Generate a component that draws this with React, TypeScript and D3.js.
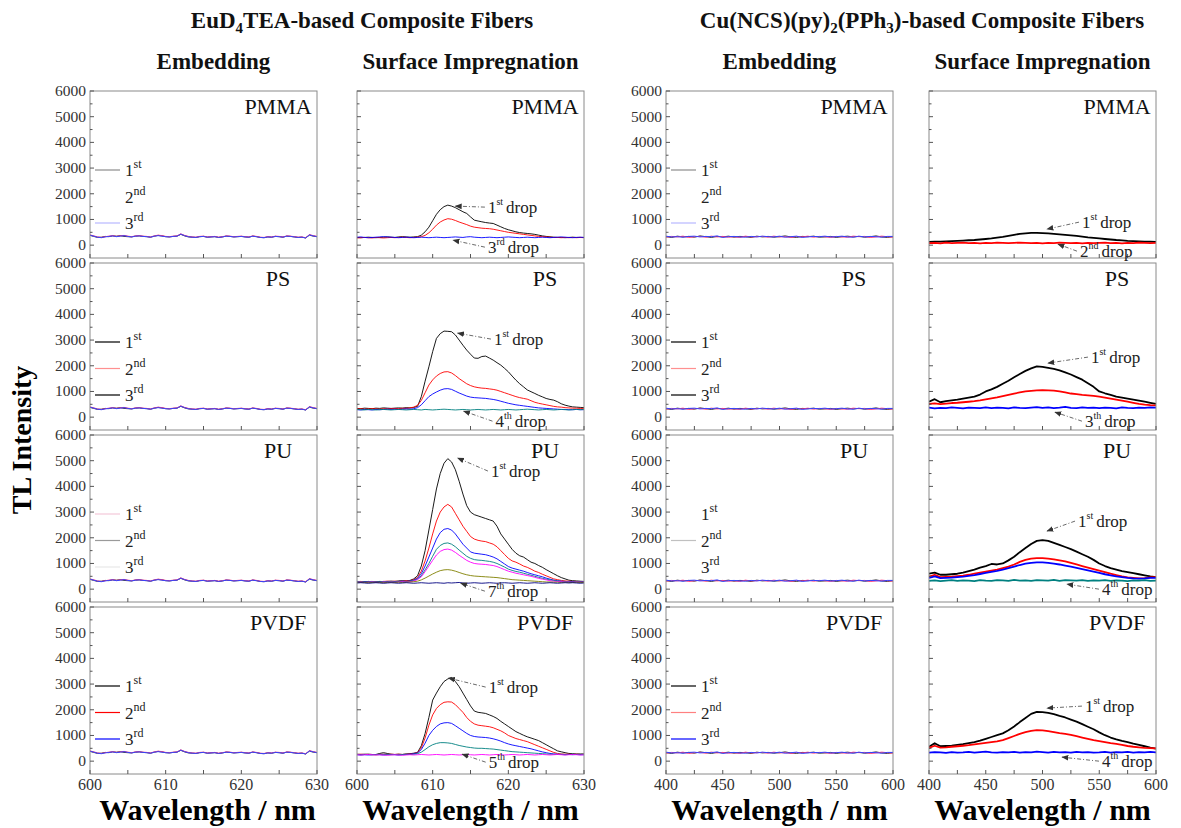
import React from "react";
import * as d3 from "d3";

// ---------------- categories / ticks ----------------
const materials = ["PMMA", "PS", "PU", "PVDF"];
const euWavelengths = d3.range(61).map((i) => 600 + i * 0.5);
const cuWavelengths = d3.range(41).map((i) => 400 + i * 5);
const euXTicks = [600, 610, 620, 630];
const euXMinor = [605, 615, 625];
const cuXTicks = [400, 450, 500, 550, 600];
const cuXMinor = [425, 475, 525, 575];
const yTicks = [0, 1000, 2000, 3000, 4000, 5000, 6000];
const yMinor = [500, 1500, 2500, 3500, 4500, 5500];
const dropColors = ["#000000", "#ff0000", "#0000ff", "#008080", "#ff00ff", "#808000", "#000080"];
const embedColors = ["#333333", "#ff3377", "#3344ff"];
const legendLabels = [["1", "st"], ["2", "nd"], ["3", "rd"]];
const euLegendColors = [
  ["#8c8c8c", "#ffffff", "#b8b8ff"],
  ["#000000", "#ff9090", "#000000"],
  ["#f4c8d8", "#9a9a9a", "#e8e8e8"],
  ["#000000", "#ff0000", "#0000ff"],
];
const cuLegendColors = [
  ["#8c8c8c", "#ffffff", "#b8b8ff"],
  ["#000000", "#ff9090", "#000000"],
  ["#ffffff", "#c0c0c0", "#ffffff"],
  ["#000000", "#ff8080", "#0000ff"],
];

// ---------------- EuD4TEA embedding (shared noise baselines) ----------------
const euEmbed1 = [
  380, 340, 300, 310, 340, 330, 360, 350, 370, 340,
  330, 320, 350, 360, 340, 330, 310, 350, 380, 360,
  330, 320, 340, 350, 420, 360, 320, 310, 300, 330,
  340, 310, 320, 330, 300, 320, 350, 340, 320, 330,
  340, 320, 310, 350, 330, 300, 290, 320, 310, 340,
  330, 310, 350, 340, 320, 300, 310, 280, 390, 350,
  330,
];
const euEmbed2 = [
  400, 360, 320, 300, 330, 350, 370, 340, 360, 380,
  350, 330, 360, 370, 350, 340, 320, 360, 390, 370,
  340, 330, 350, 360, 440, 380, 340, 320, 310, 340,
  350, 320, 330, 340, 310, 330, 360, 350, 330, 340,
  350, 330, 320, 360, 340, 310, 300, 330, 320, 350,
  340, 320, 360, 350, 330, 310, 320, 290, 410, 370,
  340,
];
const euEmbed3 = [
  390, 350, 310, 290, 320, 340, 360, 330, 350, 370,
  340, 320, 350, 360, 340, 330, 310, 350, 370, 350,
  330, 320, 340, 350, 430, 370, 330, 310, 300, 330,
  340, 310, 320, 330, 300, 320, 350, 340, 320, 330,
  340, 320, 310, 350, 330, 300, 290, 320, 310, 340,
  330, 310, 350, 340, 320, 300, 310, 280, 400, 360,
  330,
];

// ---------------- EuD4TEA surface impregnation ----------------
const euPmma1 = [
  300, 290, 300, 310, 300, 290, 300, 310, 320, 310,
  300, 320, 330, 320, 310, 320, 330, 390, 520, 700,
  950, 1200, 1380, 1500, 1558, 1520, 1460, 1380, 1300, 1234,
  1100, 974, 940, 909, 880, 860, 844, 780, 714, 650,
  600, 560, 519, 490, 470, 455, 440, 420, 390, 360,
  340, 325, 310, 300, 300, 290, 300, 310, 300, 300,
  300,
];
const euPmma2 = [
  280, 290, 300, 290, 280, 300, 290, 280, 290, 300,
  290, 300, 310, 300, 290, 300, 310, 330, 380, 480,
  620, 780, 900, 980, 1030, 1010, 960, 900, 850, 800,
  740, 700, 680, 660, 650, 640, 620, 590, 560, 530,
  500, 480, 460, 440, 420, 400, 380, 360, 340, 330,
  320, 310, 300, 300, 290, 300, 290, 300, 290, 300,
  290,
];
const euPmma3 = [
  310, 320, 300, 290, 300, 310, 320, 330, 320, 310,
  300, 290, 300, 310, 300, 290, 300, 310, 300, 290,
  300, 310, 300, 290, 300, 310, 320, 310, 300, 320,
  330, 310, 300, 290, 300, 310, 300, 290, 300, 310,
  320, 310, 300, 290, 300, 310, 300, 290, 300, 310,
  300, 290, 300, 310, 320, 310, 300, 290, 300, 310,
  300,
];
const euPs1 = [
  340, 330, 350, 340, 330, 350, 340, 360, 350, 340,
  350, 360, 350, 370, 360, 380, 420, 800, 1400, 1960,
  2550, 3065, 3250, 3350, 3340, 3325, 3200, 3000, 2800, 2610,
  2450, 2300, 2290, 2360, 2377, 2300, 2220, 2120, 2026, 1900,
  1766, 1600, 1441, 1300, 1182, 1060, 990, 922, 850, 790,
  727, 690, 662, 600, 520, 467, 430, 400, 390, 380,
  370,
];
const euPs2 = [
  320, 330, 310, 320, 330, 320, 310, 330, 320, 330,
  340, 330, 350, 340, 360, 390, 460, 650, 950, 1250,
  1450, 1600, 1700, 1760, 1770, 1720, 1620, 1500, 1400, 1300,
  1230, 1180, 1150, 1130, 1120, 1100, 1080, 1050, 1000, 950,
  900, 850, 800, 760, 730, 700, 640, 580, 540, 510,
  480, 450, 420, 400, 390, 370, 360, 350, 350, 340,
  340,
];
const euPs3 = [
  290, 280, 300, 290, 280, 300, 290, 300, 310, 300,
  310, 300, 310, 320, 310, 330, 370, 480, 640, 800,
  900, 980, 1050, 1100, 1110, 1080, 1010, 940, 880, 820,
  780, 760, 750, 740, 730, 710, 690, 660, 620, 580,
  540, 510, 480, 460, 440, 420, 400, 380, 360, 350,
  340, 330, 320, 310, 300, 300, 290, 290, 300, 290,
  290,
];
const euPs4 = [
  300, 290, 280, 300, 290, 280, 290, 300, 290, 280,
  290, 300, 290, 280, 290, 300, 290, 280, 300, 290,
  280, 290, 300, 310, 300, 290, 280, 290, 300, 290,
  280, 290, 300, 290, 280, 290, 300, 290, 280, 290,
  300, 290, 280, 290, 300, 310, 300, 290, 280, 290,
  300, 290, 280, 290, 300, 290, 280, 290, 300, 290,
  300,
];
const euPu1 = [
  300, 290, 280, 300, 290, 285, 300, 295, 300, 310,
  300, 320, 330, 320, 340, 400, 520, 900, 1500, 2300,
  3100, 3900, 4500, 4900, 5080, 4950, 4650, 4200, 3700, 3250,
  3000, 2900, 2850, 2800, 2750, 2700, 2650, 2450, 2150, 1950,
  1750, 1550, 1400, 1300, 1250, 1150, 1050, 1000, 920, 850,
  760, 680, 600, 520, 450, 400, 350, 330, 320, 310,
  300,
];
const euPu2 = [
  290, 300, 280, 290, 300, 280, 290, 300, 310, 300,
  310, 300, 320, 330, 330, 370, 450, 700, 1100, 1600,
  2150, 2650, 3000, 3200, 3300, 3200, 2950, 2700, 2450, 2250,
  2050, 1950, 1900, 1870, 1850, 1800, 1750, 1650, 1500, 1350,
  1200, 1100, 1050, 980, 900, 850, 780, 700, 650, 580,
  520, 460, 400, 370, 340, 320, 310, 300, 300, 290,
  290,
];
const euPu3 = [
  280, 270, 290, 280, 270, 290, 280, 270, 290, 300,
  290, 300, 310, 300, 320, 350, 420, 600, 900, 1250,
  1600, 1950, 2200, 2330, 2360, 2300, 2150, 1950, 1750, 1600,
  1450, 1400, 1380, 1360, 1340, 1300, 1250, 1180, 1080, 980,
  880, 820, 780, 740, 700, 650, 600, 560, 520, 480,
  430, 390, 350, 330, 310, 300, 290, 290, 280, 280,
  280,
];
const euPu4 = [
  300, 290, 280, 290, 300, 280, 290, 300, 290, 300,
  290, 300, 310, 300, 310, 340, 390, 520, 750, 1000,
  1280, 1550, 1700, 1780, 1800, 1750, 1650, 1520, 1400, 1280,
  1200, 1150, 1130, 1120, 1100, 1080, 1050, 1000, 930, 860,
  780, 730, 690, 660, 620, 580, 540, 500, 460, 420,
  390, 360, 340, 320, 300, 300, 290, 280, 290, 280,
  280,
];
const euPu5 = [
  270, 280, 260, 270, 280, 270, 260, 280, 270, 280,
  270, 280, 290, 280, 290, 320, 370, 480, 680, 900,
  1120, 1330, 1470, 1540, 1560, 1520, 1430, 1320, 1220, 1120,
  1050, 1000, 980, 970, 960, 940, 920, 880, 820, 760,
  700, 660, 620, 590, 560, 530, 500, 460, 420, 390,
  360, 330, 310, 300, 290, 280, 280, 270, 280, 270,
  270,
];
const euPu6 = [
  260, 270, 260, 250, 260, 270, 260, 250, 260, 270,
  260, 270, 260, 270, 280, 290, 310, 360, 430, 510,
  590, 660, 720, 750, 760, 740, 700, 650, 600, 560,
  530, 510, 500, 490, 480, 470, 460, 450, 430, 410,
  390, 370, 360, 350, 340, 330, 320, 310, 300, 290,
  280, 280, 270, 270, 260, 270, 260, 260, 270, 260,
  260,
];
const euPu7 = [
  240, 250, 240, 230, 240, 250, 240, 230, 240, 250,
  240, 230, 240, 250, 240, 230, 240, 250, 240, 230,
  240, 250, 240, 230, 250, 240, 250, 260, 240, 230,
  240, 250, 240, 230, 240, 250, 240, 230, 240, 250,
  240, 230, 240, 250, 240, 230, 240, 250, 240, 230,
  240, 250, 240, 230, 240, 250, 240, 250, 240, 230,
  240,
];
const euPvdf1 = [
  270, 260, 270, 260, 250, 260, 300, 330, 300, 270,
  260, 270, 260, 280, 290, 310, 340, 600, 1078, 1700,
  2377, 2650, 2896, 3100, 3200, 3260, 3100, 2900, 2650, 2400,
  2150, 1950, 1900, 1880, 1857, 1800, 1740, 1662, 1550, 1450,
  1350, 1250, 1150, 1080, 1010, 948, 900, 850, 800, 720,
  640, 558, 480, 400, 364, 330, 300, 290, 280, 280,
  280,
];
const euPvdf2 = [
  260, 270, 260, 270, 260, 250, 260, 270, 260, 270,
  260, 270, 260, 270, 280, 300, 330, 520, 900, 1400,
  1800, 2050, 2200, 2290, 2310, 2300, 2200, 2050, 1900, 1700,
  1550, 1450, 1400, 1380, 1360, 1340, 1300, 1240, 1180, 1100,
  1000, 940, 880, 840, 800, 760, 700, 640, 580, 520,
  460, 400, 340, 300, 280, 270, 270, 260, 270, 260,
  260,
];
const euPvdf3 = [
  250, 240, 250, 240, 250, 260, 250, 240, 250, 260,
  250, 240, 250, 260, 270, 290, 320, 450, 700, 1000,
  1200, 1350, 1450, 1490, 1500, 1470, 1380, 1280, 1180, 1080,
  1000, 960, 940, 930, 920, 900, 870, 830, 780, 720,
  670, 630, 600, 570, 540, 510, 480, 440, 400, 360,
  330, 300, 280, 270, 260, 250, 260, 250, 260, 250,
  250,
];
const euPvdf4 = [
  260, 250, 260, 270, 260, 250, 260, 270, 260, 250,
  260, 250, 260, 270, 260, 270, 290, 350, 450, 560,
  640, 690, 720, 720, 710, 690, 650, 610, 580, 550,
  530, 510, 500, 500, 490, 480, 470, 450, 430, 410,
  390, 370, 360, 350, 340, 330, 320, 310, 300, 290,
  280, 270, 270, 260, 270, 260, 260, 270, 260, 260,
  260,
];
const euPvdf5 = [
  250, 240, 250, 260, 250, 240, 250, 240, 230, 240,
  250, 240, 230, 240, 250, 240, 250, 260, 250, 240,
  250, 260, 250, 240, 250, 260, 250, 240, 250, 260,
  250, 240, 250, 260, 250, 240, 250, 260, 250, 240,
  250, 260, 250, 240, 250, 260, 250, 240, 250, 260,
  250, 240, 250, 260, 250, 240, 250, 260, 250, 240,
  250,
];

// ---------------- Cu(NCS)(py)2(PPh3) embedding ----------------
const cuEmbed1 = [
  330, 300, 350, 320, 340, 310, 360, 330, 300, 340,
  320, 350, 310, 340, 330, 300, 350, 320, 340, 310,
  330, 360, 320, 300, 340, 330, 350, 310, 320, 340,
  300, 330, 350, 320, 340, 310, 330, 360, 320, 300,
  330,
];
const cuEmbed2 = [
  310, 340, 320, 350, 300, 330, 340, 310, 350, 320,
  340, 310, 330, 300, 350, 320, 330, 340, 310, 350,
  320, 330, 300, 340, 320, 350, 310, 340, 330, 300,
  340, 320, 310, 350, 330, 340, 300, 320, 350, 330,
  310,
];
const cuEmbed3 = [
  350, 320, 330, 310, 340, 350, 320, 340, 330, 360,
  300, 330, 340, 320, 310, 340, 320, 350, 330, 320,
  350, 310, 330, 350, 300, 320, 340, 330, 350, 320,
  330, 350, 320, 310, 350, 320, 340, 330, 310, 340,
  340,
];

// ---------------- Cu(NCS)(py)2(PPh3) surface impregnation ----------------
const cuPmma1 = [
  130, 140, 140, 150, 160, 170, 180, 190, 200, 220,
  240, 260, 290, 320, 360, 400, 440, 460, 480, 480,
  470, 460, 440, 420, 400, 380, 360, 330, 300, 280,
  260, 240, 220, 200, 185, 170, 160, 150, 140, 135,
  130,
];
const cuPmma2 = [
  80, 90, 70, 100, 80, 90, 100, 80, 90, 70,
  90, 80, 100, 90, 80, 90, 100, 90, 80, 90,
  70, 90, 80, 100, 90, 80, 90, 70, 90, 80,
  90, 100, 80, 90, 70, 90, 80, 100, 90, 80,
  90,
];
const cuPs1 = [
  600, 700, 580, 620, 650, 680, 720, 760, 800, 880,
  1000, 1080, 1180, 1300, 1420, 1550, 1680, 1800, 1900, 1980,
  1960, 1920, 1880, 1820, 1740, 1660, 1560, 1460, 1320, 1180,
  1000, 930, 870, 800, 760, 720, 680, 640, 600, 560,
  520,
];
const cuPs2 = [
  520, 540, 510, 530, 550, 560, 580, 600, 620, 650,
  690, 730, 770, 820, 870, 920, 960, 1000, 1020, 1040,
  1050, 1040, 1030, 1000, 960, 920, 900, 870, 850, 830,
  800, 760, 720, 680, 640, 600, 560, 520, 490, 470,
  460,
];
const cuPs3 = [
  370, 340, 360, 350, 380, 360, 340, 370, 360, 350,
  380, 350, 370, 360, 340, 380, 360, 350, 370, 390,
  360, 380, 350, 370, 400, 360, 350, 380, 360, 370,
  350, 370, 360, 340, 380, 360, 350, 370, 360, 380,
  370,
];
const cuPu1 = [
  600, 640, 560, 560, 580, 600, 640, 700, 760, 840,
  900, 980, 960, 1000, 1120, 1260, 1440, 1600, 1760, 1880,
  1910, 1880, 1800, 1720, 1640, 1560, 1460, 1360, 1260, 1140,
  1000, 900, 820, 760, 700, 660, 620, 580, 540, 500,
  470,
];
const cuPu2 = [
  480, 560, 470, 480, 490, 510, 530, 560, 600, 640,
  680, 720, 760, 820, 880, 960, 1060, 1140, 1190, 1210,
  1210, 1190, 1160, 1120, 1080, 1020, 960, 900, 840, 780,
  720, 660, 600, 550, 500, 460, 440, 420, 430, 460,
  470,
];
const cuPu3 = [
  440, 500, 430, 440, 450, 470, 490, 520, 550, 590,
  630, 670, 710, 760, 820, 880, 940, 990, 1020, 1040,
  1040, 1020, 990, 960, 920, 880, 830, 780, 730, 680,
  630, 580, 540, 500, 470, 440, 420, 410, 420, 440,
  440,
];
const cuPu4 = [
  320, 340, 310, 330, 350, 320, 340, 330, 310, 350,
  330, 320, 350, 340, 320, 360, 330, 340, 320, 350,
  340, 330, 360, 320, 350, 340, 330, 350, 320, 340,
  330, 350, 320, 340, 330, 310, 340, 330, 350, 320,
  330,
];
const cuPvdf1 = [
  560, 700, 580, 590, 600, 630, 660, 700, 740, 800,
  870, 940, 1010, 1080, 1200, 1350, 1520, 1680, 1840, 1920,
  1910, 1880, 1830, 1760, 1700, 1620, 1540, 1440, 1340, 1240,
  1120, 1010, 920, 850, 790, 740, 680, 630, 580, 530,
  490,
];
const cuPvdf2 = [
  520, 600, 530, 540, 560, 580, 600, 620, 650, 680,
  710, 740, 770, 820, 900, 980, 1060, 1130, 1180, 1210,
  1200, 1170, 1130, 1090, 1060, 1020, 970, 920, 870, 820,
  780, 740, 700, 670, 630, 590, 560, 540, 520, 510,
  500,
];
const cuPvdf3 = [
  330, 350, 340, 320, 350, 330, 340, 360, 330, 350,
  370, 340, 330, 350, 340, 360, 330, 350, 340, 370,
  350, 330, 360, 340, 350, 330, 360, 340, 350, 330,
  340, 360, 330, 350, 340, 360, 330, 350, 340, 360,
  340,
];

// ---------------- annotations (data coordinates) ----------------
const euNotes = [
  [{ n: "1", sup: "st", tip: [613.0, 1519], at: [617.3, 1247] }, { n: "3", sup: "rd", tip: [612.7, 195], at: [617.3, -312] }],
  [{ n: "1", sup: "st", tip: [613.3, 3272], at: [618.1, 2805] }, { n: "4", sup: "th", tip: [614.1, 234], at: [618.3, -390] }],
  [{ n: "1", sup: "st", tip: [613.3, 5103], at: [617.7, 4363] }, { n: "7", sup: "th", tip: [613.7, 234], at: [617.3, -312] }],
  [{ n: "1", sup: "st", tip: [612.1, 3233], at: [617.4, 2649] }, { n: "5", sup: "th", tip: [613.9, 273], at: [617.4, -273] }],
];
const cuNotes = [
  [{ n: "1", sup: "st", tip: [504, 623], at: [534.8, 662] }, { n: "2", sup: "nd", tip: [513.7, 39], at: [533, -467] }],
  [{ n: "1", sup: "st", tip: [504.8, 2104], at: [542.7, 2104] }, { n: "3", sup: "th", tip: [511, 195], at: [537.4, -390] }],
  [{ n: "1", sup: "st", tip: [504, 2260], at: [531.3, 2415] }, { n: "4", sup: "th", tip: [521.6, 195], at: [552.4, -234] }],
  [{ n: "1", sup: "st", tip: [504, 2065], at: [537.4, 1909] }, { n: "4", sup: "th", tip: [517.2, 156], at: [552.4, -234] }],
];

const euSurface = [
  [euPmma1, euPmma2, euPmma3],
  [euPs1, euPs2, euPs3, euPs4],
  [euPu1, euPu2, euPu3, euPu4, euPu5, euPu6, euPu7],
  [euPvdf1, euPvdf2, euPvdf3, euPvdf4, euPvdf5],
];
const cuSurface = [
  [cuPmma1, cuPmma2],
  [cuPs1, cuPs2, cuPs3],
  [cuPu1, cuPu2, cuPu3, cuPu4],
  [cuPvdf1, cuPvdf2, cuPvdf3],
];
const euEmbed = [euEmbed1, euEmbed2, euEmbed3];
const cuEmbed = [cuEmbed1, cuEmbed2, cuEmbed3];

// ---------------- layout ----------------
const W = 1181;
const H = 828;
const PW = 227;
const PH = 167;
const colLefts = [90, 357, 666, 929];
const rowTops = [91, 263, 435, 607];
const FONT = "'Liberation Serif', 'Times New Roman', Times, serif";

type Note = { n: string; sup: string; tip: number[]; at: number[] };

function Panel(props: {
  id: string;
  left: number;
  top: number;
  wl: number[];
  xDomain: [number, number];
  xTicks: number[];
  xMinor: number[];
  showY: boolean;
  showX: boolean;
  series: number[][];
  colors: string[];
  sw: number;
  label: string;
  legend?: string[];
  notes?: Note[];
}) {
  const { id, left, top, wl, xDomain, xTicks, xMinor, showY, showX, series, colors, sw, label, legend, notes } = props;
  const x = d3.scaleLinear().domain(xDomain).range([left, left + PW]);
  const y = d3.scaleLinear().domain([-500, 6000]).range([top + PH, top]);
  const line = d3
    .line<number>()
    .x((_, i) => x(wl[i]))
    .y((d) => y(d));
  const bottom = top + PH;
  return (
    <g>
      <clipPath id={id}>
        <rect x={left} y={top} width={PW} height={PH} />
      </clipPath>
      <g clipPath={`url(#${id})`}>
        {series.map((s, i) => (
          <path key={i} d={line(s) || ""} fill="none" stroke={colors[i]} strokeWidth={sw} strokeLinejoin="round" />
        ))}
      </g>
      <rect x={left} y={top} width={PW} height={PH} fill="none" stroke="#8a8a8a" strokeWidth={1} />
      {yTicks.map((t) => (
        <line key={"yt" + t} x1={left} x2={left + 4} y1={y(t)} y2={y(t)} stroke="#555" strokeWidth={1} />
      ))}
      {yMinor.map((t) => (
        <line key={"ym" + t} x1={left} x2={left + 2.5} y1={y(t)} y2={y(t)} stroke="#555" strokeWidth={1} />
      ))}
      {xTicks.concat(xMinor).map((t) => (
        <line key={"xt" + t} x1={x(t)} x2={x(t)} y1={bottom} y2={bottom - 4} stroke="#555" strokeWidth={1} />
      ))}
      {showY &&
        yTicks.map((t) => (
          <text key={"yl" + t} x={left - 4} y={y(t) + 5} textAnchor="end" fontSize={15.5} fill="#333">
            {t}
          </text>
        ))}
      {showX &&
        xTicks.map((t) => (
          <text key={"xl" + t} x={x(t)} y={bottom + 16} textAnchor="middle" fontSize={16} fill="#333">
            {t}
          </text>
        ))}
      <text x={left + PW - 39} y={top + 23} textAnchor="middle" fontSize={22} fill="#111">
        {label}
      </text>
      {legend &&
        legendLabels.map((lab, i) => {
          const ly = top + 79 + i * 26.5;
          return (
            <g key={"lg" + i}>
              <line x1={left + 5} x2={left + 30} y1={ly} y2={ly} stroke={legend[i]} strokeWidth={1.2} />
              <text x={left + 35} y={ly + 6} fontSize={17} fill="#222">
                {lab[0]}
                <tspan dy={-8} fontSize={12}>
                  {lab[1]}
                </tspan>
              </text>
            </g>
          );
        })}
      {notes &&
        notes.map((nt, i) => {
          const tx = x(nt.at[0]);
          const ty = y(nt.at[1]);
          return (
            <g key={"nt" + i}>
              <line
                x1={tx - 3}
                y1={ty - 6}
                x2={x(nt.tip[0])}
                y2={y(nt.tip[1])}
                stroke="#444"
                strokeWidth={0.8}
                strokeDasharray="4,2,1,2"
                markerEnd="url(#arrowHead)"
              />
              <text x={tx} y={ty} fontSize={17} fill="#222">
                {nt.n}
                <tspan dy={-8} fontSize={10}>
                  {nt.sup}
                </tspan>
                <tspan dy={8} dx={3} fontSize={17}>
                  drop
                </tspan>
              </text>
            </g>
          );
        })}
    </g>
  );
}

export default function App() {
  const colCenter = (c: number) => colLefts[c] + PW / 2;
  return (
    <div style={{ position: "absolute", left: 0, top: 0, width: W, height: H }}>
      <svg width={W} height={H} style={{ display: "block", background: "#ffffff" }} fontFamily={FONT}>
        <defs>
          <marker id="arrowHead" viewBox="0 0 10 10" refX="9" refY="5" markerWidth="7" markerHeight="7" orient="auto" markerUnits="userSpaceOnUse">
            <path d="M0,1 L10,5 L0,9 z" fill="#333" />
          </marker>
        </defs>
        {/* group titles */}
        <text x={362} y={28} textAnchor="middle" fontSize={23} fontWeight="bold" fill="#111">
          EuD
          <tspan dy={5} fontSize={15}>4</tspan>
          <tspan dy={-5}>TEA-based Composite Fibers</tspan>
        </text>
        <text x={922} y={28} textAnchor="middle" fontSize={23} fontWeight="bold" fill="#111">
          Cu(NCS)(py)
          <tspan dy={5} fontSize={15}>2</tspan>
          <tspan dy={-5}>(PPh</tspan>
          <tspan dy={5} fontSize={15}>3</tspan>
          <tspan dy={-5}>)-based Composite Fibers</tspan>
        </text>
        {["Embedding", "Surface Impregnation", "Embedding", "Surface Impregnation"].map((h, c) => (
          <text key={"h" + c} x={colCenter(c) + (c === 0 ? 10 : 0)} y={69} textAnchor="middle" fontSize={23} fontWeight="bold" fill="#111">
            {h}
          </text>
        ))}
        {materials.map((m, r) => (
          <g key={m}>
            <Panel
              id={"c0r" + r}
              left={colLefts[0]}
              top={rowTops[r]}
              wl={euWavelengths}
              xDomain={[600, 630]}
              xTicks={euXTicks}
              xMinor={euXMinor}
              showY={true}
              showX={r === 3}
              series={euEmbed}
              colors={embedColors}
              sw={1}
              label={m}
              legend={euLegendColors[r]}
            />
            <Panel
              id={"c1r" + r}
              left={colLefts[1]}
              top={rowTops[r]}
              wl={euWavelengths}
              xDomain={[600, 630]}
              xTicks={euXTicks}
              xMinor={euXMinor}
              showY={false}
              showX={r === 3}
              series={euSurface[r]}
              colors={dropColors}
              sw={0.9}
              label={m}
              notes={euNotes[r]}
            />
            <Panel
              id={"c2r" + r}
              left={colLefts[2]}
              top={rowTops[r]}
              wl={cuWavelengths}
              xDomain={[400, 600]}
              xTicks={cuXTicks}
              xMinor={cuXMinor}
              showY={true}
              showX={r === 3}
              series={cuEmbed}
              colors={embedColors}
              sw={1}
              label={m}
              legend={cuLegendColors[r]}
            />
            <Panel
              id={"c3r" + r}
              left={colLefts[3]}
              top={rowTops[r]}
              wl={cuWavelengths}
              xDomain={[400, 600]}
              xTicks={cuXTicks}
              xMinor={cuXMinor}
              showY={false}
              showX={r === 3}
              series={cuSurface[r]}
              colors={dropColors}
              sw={1.8}
              label={m}
              notes={cuNotes[r]}
            />
          </g>
        ))}
        {[0, 1, 2, 3].map((c) => (
          <text key={"wl" + c} x={colCenter(c) + (c === 0 ? 4 : 0)} y={820} textAnchor="middle" fontSize={30} fontWeight="bold" fill="#000">
            Wavelength / nm
          </text>
        ))}
        <text transform="translate(31,440) rotate(-90)" textAnchor="middle" fontSize={28} fontWeight="bold" fill="#000">
          TL Intensity
        </text>
      </svg>
    </div>
  );
}
